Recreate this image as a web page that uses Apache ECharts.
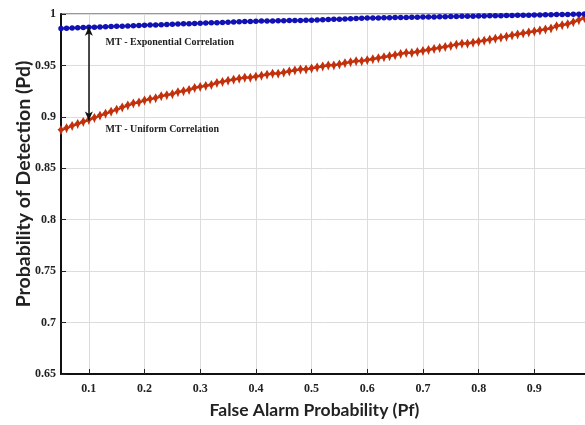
<!DOCTYPE html>
<html>
<head>
<meta charset="utf-8">
<script src="https://cdn.jsdelivr.net/npm/echarts@6/dist/echarts.min.js"></script>
<style>
  html, body { margin: 0; padding: 0; background: #fff; }
  #chart { width: 585px; height: 425px; }
</style>
</head>
<body>
<div id="chart"></div>
<script>
// false alarm probability (x)
const pf = [
  0.05, 0.06, 0.07, 0.08, 0.09, 0.10, 0.11, 0.12, 0.13, 0.14,
  0.15, 0.16, 0.17, 0.18, 0.19, 0.20, 0.21, 0.22, 0.23, 0.24,
  0.25, 0.26, 0.27, 0.28, 0.29, 0.30, 0.31, 0.32, 0.33, 0.34,
  0.35, 0.36, 0.37, 0.38, 0.39, 0.40, 0.41, 0.42, 0.43, 0.44,
  0.45, 0.46, 0.47, 0.48, 0.49, 0.50, 0.51, 0.52, 0.53, 0.54,
  0.55, 0.56, 0.57, 0.58, 0.59, 0.60, 0.61, 0.62, 0.63, 0.64,
  0.65, 0.66, 0.67, 0.68, 0.69, 0.70, 0.71, 0.72, 0.73, 0.74,
  0.75, 0.76, 0.77, 0.78, 0.79, 0.80, 0.81, 0.82, 0.83, 0.84,
  0.85, 0.86, 0.87, 0.88, 0.89, 0.90, 0.91, 0.92, 0.93, 0.94,
  0.95, 0.96, 0.97, 0.98, 0.99, 1.00
];

// MT - Exponential Correlation
const pdExponential = [
  0.9860, 0.9862, 0.9864, 0.9866, 0.9868, 0.9870, 0.9872, 0.9874, 0.9876, 0.9878,
  0.9880, 0.9882, 0.9884, 0.9886, 0.9888, 0.9890, 0.9892, 0.9894, 0.9896, 0.9898,
  0.9900, 0.9902, 0.9904, 0.9906, 0.9908, 0.9910, 0.9912, 0.9914, 0.9916, 0.9918,
  0.9920, 0.9922, 0.9924, 0.9926, 0.9928, 0.9930, 0.9931, 0.9932, 0.9933, 0.9934,
  0.9935, 0.9936, 0.9937, 0.9938, 0.9939, 0.9940, 0.9942, 0.9944, 0.9946, 0.9948,
  0.9950, 0.9952, 0.9954, 0.9956, 0.9958, 0.9960, 0.9961, 0.9962, 0.9963, 0.9964,
  0.9965, 0.9966, 0.9967, 0.9968, 0.9969, 0.9970, 0.9971, 0.9972, 0.9973, 0.9974,
  0.9975, 0.9976, 0.9977, 0.9978, 0.9979, 0.9980, 0.9981, 0.9982, 0.9983, 0.9984,
  0.9985, 0.9986, 0.9987, 0.9988, 0.9989, 0.9990, 0.9991, 0.9992, 0.9993, 0.9994,
  0.9995, 0.9996, 0.9997, 0.9998, 0.9999, 1.0000
];

// MT - Uniform Correlation
const pdUniform = [
  0.887, 0.889, 0.891, 0.893, 0.895, 0.897, 0.899, 0.901, 0.903, 0.905,
  0.907, 0.909, 0.911, 0.913, 0.914, 0.916, 0.917, 0.918, 0.920, 0.921,
  0.922, 0.924, 0.925, 0.926, 0.928, 0.929, 0.930, 0.931, 0.933, 0.934,
  0.935, 0.936, 0.937, 0.938, 0.938, 0.939, 0.940, 0.941, 0.942, 0.942,
  0.943, 0.944, 0.945, 0.946, 0.946, 0.947, 0.948, 0.949, 0.950, 0.950,
  0.951, 0.952, 0.953, 0.954, 0.954, 0.955, 0.956, 0.957, 0.958, 0.959,
  0.960, 0.961, 0.962, 0.962, 0.963, 0.964, 0.965, 0.966, 0.967, 0.968,
  0.969, 0.970, 0.971, 0.971, 0.972, 0.973, 0.974, 0.975, 0.976, 0.977,
  0.978, 0.979, 0.980, 0.981, 0.982, 0.983, 0.984, 0.985, 0.986, 0.988,
  0.989, 0.990, 0.992, 0.994, 0.996, 0.998
];

const xTicks = [0.1, 0.2, 0.3, 0.4, 0.5, 0.6, 0.7, 0.8, 0.9];

// arrow between the curves and the two captions
const arrowX = 0.1;
const arrowTop = 0.9875;
const arrowBottom = 0.8965;
const captions = [
  { text: 'MT - Exponential Correlation', x: 0.13, y: 0.972 },
  { text: 'MT - Uniform Correlation', x: 0.13, y: 0.888 }
];

const blue = '#1212b4';
const red = '#c2300c';
// fat plus with pointed arms, like the blurred markers of the original
const plusPath = 'path://M4,0 L6,3 L8,4.5 L6,6 L4,10 L2,6 L0,4.5 L2,3 Z';
const tickFont = { fontFamily: '"Liberation Serif", serif', fontWeight: 'bold', fontSize: 12, color: '#222' };

const chart = echarts.init(document.getElementById('chart'));

chart.setOption({
  animation: false,
  backgroundColor: '#fff',
  grid: {
    left: 61, top: 14, bottom: 51, right: -5,
    outerBoundsMode: 'none',
    show: true, borderColor: '#333', borderWidth: 1
  },
  xAxis: {
    type: 'value',
    min: 0.05, max: 1.0,
    name: 'False Alarm Probability (Pf)',
    nameLocation: 'middle',
    nameGap: 27,
    nameMoveOverlap: false,
    nameTextStyle: {
      fontFamily: 'Lato', fontWeight: 'bold', fontSize: 17.5, color: '#222',
      padding: [0, 22, 0, 0]
    },
    axisLine: { lineStyle: { color: '#111', width: 2 } },
    axisTick: { inside: true, length: 5, customValues: xTicks, lineStyle: { color: '#222' } },
    axisLabel: Object.assign({ customValues: xTicks, margin: 9 }, tickFont),
    splitLine: { show: true, lineStyle: { color: '#dcdcdc' } }
  },
  yAxis: {
    type: 'value',
    min: 0.65, max: 1.0, interval: 0.05,
    name: 'Probability of Detection (Pd)',
    nameLocation: 'middle',
    nameGap: 27,
    nameMoveOverlap: false,
    nameTextStyle: {
      fontFamily: 'Lato', fontWeight: 'bold', fontSize: 19.5, color: '#222',
      padding: [0, 0, 0, 20]
    },
    axisLine: { show: true, lineStyle: { color: '#111', width: 2 } },
    axisTick: { show: true, inside: true, length: 5, lineStyle: { color: '#222' } },
    axisLabel: Object.assign({ margin: 5 }, tickFont),
    splitLine: { show: true, lineStyle: { color: '#dcdcdc' } }
  },
  series: [
    {
      name: 'MT - Uniform Correlation',
      type: 'line',
      data: pf.map((x, i) => [x, pdUniform[i]]),
      symbol: plusPath,
      symbolSize: [7, 10],
      showAllSymbol: true,
      itemStyle: { color: red },
      lineStyle: { color: red, width: 2 },
      z: 2
    },
    {
      name: 'MT - Exponential Correlation',
      type: 'line',
      data: pf.map((x, i) => [x, pdExponential[i]]),
      symbol: 'circle',
      symbolSize: 5.5,
      showAllSymbol: true,
      itemStyle: { color: blue },
      lineStyle: { color: blue, width: 2 },
      z: 3,
      markLine: {
        silent: true,
        symbol: ['arrow', 'arrow'],
        symbolSize: [6, 9],
        label: { show: false },
        lineStyle: { color: '#111', width: 1.5, type: 'solid' },
        data: [[{ coord: [arrowX, arrowTop] }, { coord: [arrowX, arrowBottom] }]]
      },
      markPoint: {
        silent: true,
        symbol: 'circle',
        symbolSize: 0,
        label: {
          show: true,
          position: 'right',
          distance: 0,
          formatter: p => p.name,
          fontFamily: '"Liberation Serif", serif',
          fontWeight: 'bold',
          fontSize: 10,
          color: '#222'
        },
        data: captions.map(c => ({ name: c.text, coord: [c.x, c.y] }))
      }
    }
  ]
});
</script>
</body>
</html>
